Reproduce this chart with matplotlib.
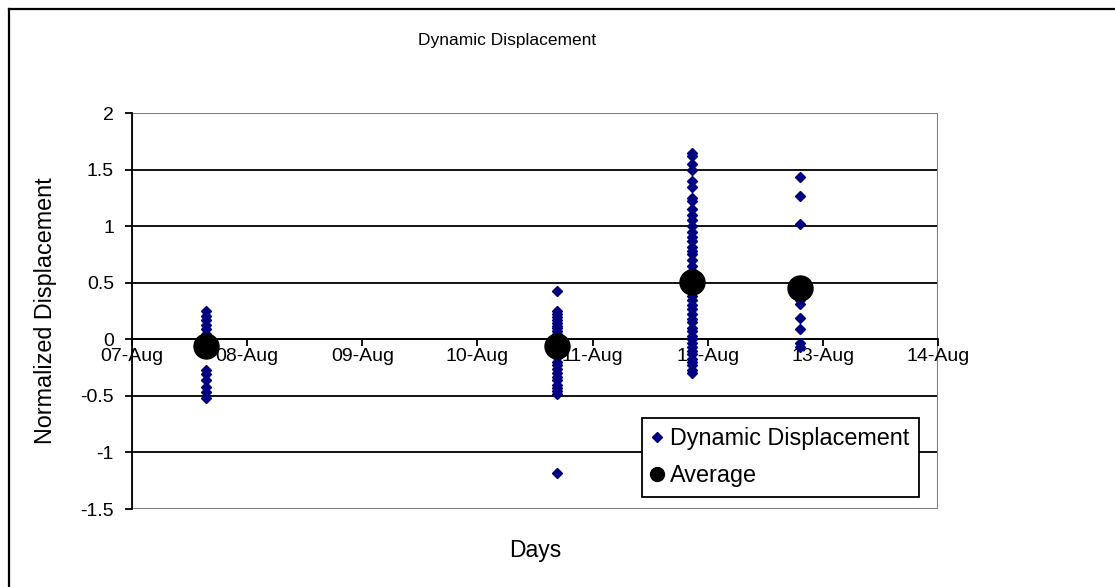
import datetime as dt
import matplotlib
matplotlib.use("Agg")
import matplotlib.pyplot as plt
import matplotlib.dates as mdates
from matplotlib.lines import Line2D
from matplotlib.patches import Rectangle

plt.rcParams["font.family"] = ["Liberation Sans", "DejaVu Sans"]

# --- data ---
day_times = [
    dt.datetime(2003, 8, 7, 15, 30),
    dt.datetime(2003, 8, 10, 16, 35),
    dt.datetime(2003, 8, 11, 20, 45),
    dt.datetime(2003, 8, 12, 19, 20),
]
disp_day1 = [0.25, 0.21, 0.17, 0.13, 0.09, 0.05, 0.0, -0.05, -0.27, -0.31,
             -0.36, -0.42, -0.47, -0.52]
disp_day2 = [0.43, 0.25, 0.22, 0.2, 0.17, 0.14, 0.12, 0.1, 0.07, 0.05, 0.02,
             0.0, -0.03, -0.06, -0.1, -0.13, -0.16, -0.2, -0.23, -0.26, -0.3,
             -0.33, -0.36, -0.4, -0.43, -0.46, -0.48, -1.18]
disp_day3 = [1.65, 1.62, 1.55, 1.5, 1.4, 1.35, 1.25, 1.22, 1.15, 1.1, 1.05,
             1.0, 0.95, 0.9, 0.87, 0.82, 0.78, 0.75, 0.7, 0.65, 0.6, 0.55,
             0.5, 0.45, 0.42, 0.38, 0.35, 0.3, 0.27, 0.22, 0.18, 0.15, 0.1,
             0.07, 0.03, 0.0, -0.03, -0.07, -0.1, -0.13, -0.17, -0.2, -0.23,
             -0.27, -0.3]
disp_day4 = [1.43, 1.27, 1.02, 0.45, 0.4, 0.35, 0.31, 0.19, 0.09, -0.03, -0.07]
averages = [-0.055, -0.055, 0.505, 0.45]

x_start = dt.datetime(2003, 8, 7)
x_end = dt.datetime(2003, 8, 14)
y_ticks = [-1.5, -1, -0.5, 0, 0.5, 1, 1.5, 2]

fig = plt.figure(figsize=(11.15, 5.87), dpi=100)
ax = fig.add_axes([132 / 1115, 1 - 509 / 587, (938 - 132) / 1115, (509 - 113) / 587])

navy = "#000080"
groups = [disp_day1, disp_day2, disp_day3, disp_day4]
for t, vals in zip(day_times, groups):
    ax.plot([t] * len(vals), vals, linestyle="none", marker="D", ms=4.6,
            color=navy, zorder=3, clip_on=False)
ax.plot(day_times, averages, linestyle="none", marker="o", ms=18,
        color="black", zorder=4)

ax.set_xlim(x_start, x_end)
ax.set_ylim(-1.5, 2)
ax.set_yticks(y_ticks)
ax.set_yticklabels(["-1.5", "-1", "-0.5", "0", "0.5", "1", "1.5", "2"])
ax.xaxis.set_major_locator(mdates.DayLocator())
ax.xaxis.set_major_formatter(mdates.DateFormatter("%d-%b"))

# y grid lines, black
for y in y_ticks[1:-1]:
    ax.axhline(y, color="black", lw=1.3, zorder=1)

# plot-area border, gray
ax.add_patch(Rectangle((0, 0), 1, 1, transform=ax.transAxes, fill=False,
                       edgecolor="#808080", lw=1.5, zorder=1.5))
for s in ["top", "right"]:
    ax.spines[s].set_visible(False)
ax.spines["bottom"].set_position(("data", 0))
ax.spines["bottom"].set_color("black")
ax.spines["bottom"].set_linewidth(1.3)
ax.spines["left"].set_linewidth(1.3)
ax.spines["bottom"].set_zorder(2)

ax.tick_params(axis="both", direction="out", length=5, width=1.3,
               labelsize=14, colors="black")
ax.tick_params(axis="x", pad=1)
ax.tick_params(axis="y", pad=8)

ax.set_ylabel("Normalized Displacement", fontsize=16.8)
ax.yaxis.set_label_coords(-0.093, 0.5)
fig.text(535 / 1115, 1 - 551 / 587, "Days", fontsize=16.5, ha="center", va="center")
fig.text(507 / 1115, 1 - 40 / 587, "Dynamic Displacement", fontsize=12.5,
         ha="center", va="center")

handles = [
    Line2D([], [], linestyle="none", marker="D", ms=5, color=navy),
    Line2D([], [], linestyle="none", marker="o", ms=10, color="black"),
]
leg = ax.legend(handles, ["Dynamic Displacement", "Average"],
                loc="upper left", bbox_to_anchor=(642 / 1115, 1 - 418 / 587),
                bbox_transform=fig.transFigure, fontsize=16.8, frameon=True,
                fancybox=False, edgecolor="black", framealpha=1,
                handlelength=0.5, handletextpad=0.3, borderpad=0.4,
                labelspacing=0.6, borderaxespad=0)
leg.get_frame().set_linewidth(1.3)
leg.set_zorder(5)

# outer chart border (left and top visible)
fig.add_artist(Line2D([9 / 1115, 9 / 1115], [0, 1 - 9 / 587], color="black", lw=1.6))
fig.add_artist(Line2D([9 / 1115, 1], [1 - 9 / 587, 1 - 9 / 587], color="black", lw=1.6))

fig.savefig("out.png", dpi=100)
